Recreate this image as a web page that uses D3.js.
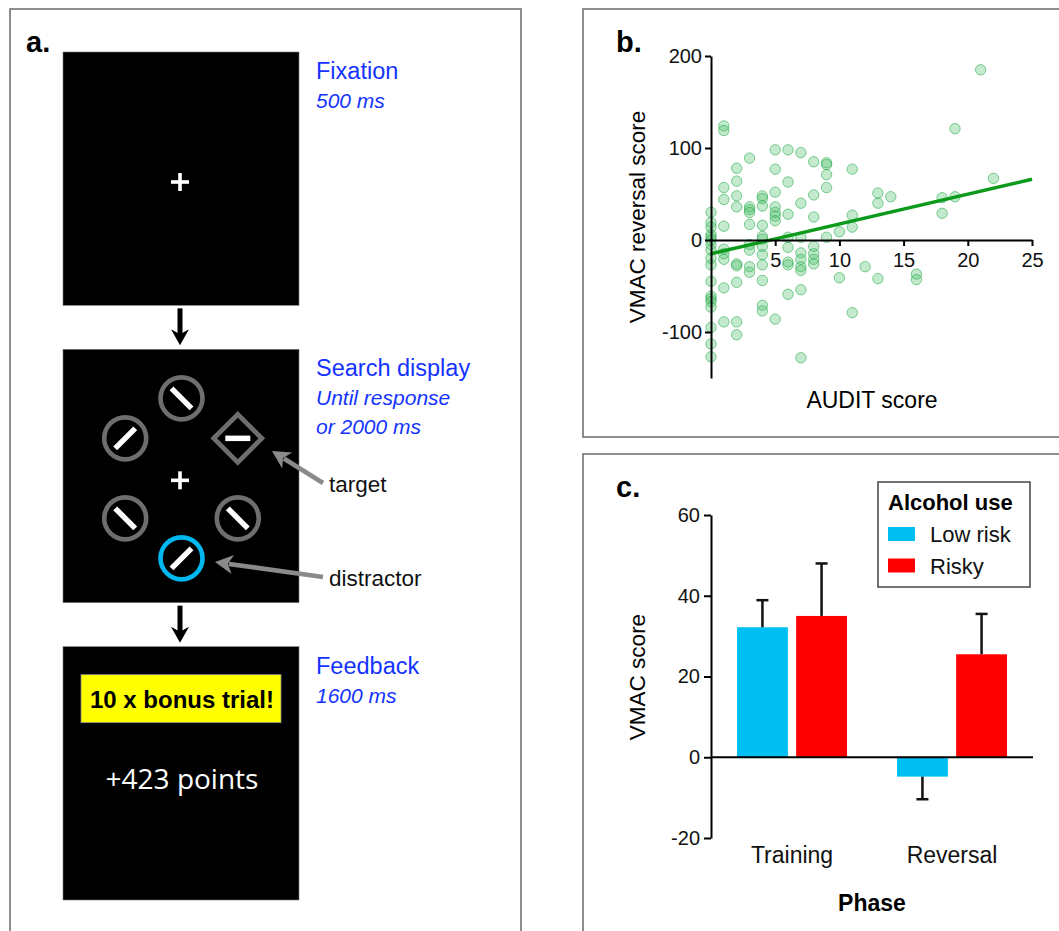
<!DOCTYPE html>
<head>
<meta charset="utf-8">
<script src="https://d3js.org/d3.v7.min.js"></script>
<style>
body { margin: 0; background: #fff; }
svg { display: block; font-family: "Liberation Sans", Arial, sans-serif; }
</style>
</head>
<body>
<script>

// ---- panel b: AUDIT vs VMAC reversal (one entry per participant)
var auditScore = [
  0,0,0,0,0,0,0,0,0,0,0,0,0,0,0,0,0,0,
  1,1,1,1,1,1,1,1,1,1,
  2,2,2,2,2,2,2,2,2,
  3,3,3,3,3,3,3,3,3,
  4,4,4,4,4,4,4,4,4,4,4,4,
  5,5,5,5,5,5,5,5,
  6,6,6,6,6,6,6,6,
  7,7,7,7,7,7,7,7,7,
  8,8,8,8,8,8,8,
  9,9,9,9,9,
  10,10, 11,11,11,11, 12, 13,13,13, 14, 16,16, 18,18, 19,19, 21, 22]
var vmacReversal = [
  30,19,14,6,3,0,-5,-11,-20,-27,-45,-61,-64,-67,-73,-95,-113,-127,
  124,119,57,44,15,-10,-15,-21,-52,-89,
  78,64,48,36,-26,-28,-46,-89,-103,
  89,36,33,30,17,-5,-11,-29,-35,
  48,45,37,16,4,1,-7,-16,-27,-44,-71,-77,
  98,77,52,36,30,26,21,-86,
  98,63,28,3,-8,-24,-27,-59,
  95,40,3,-14,-21,-29,-33,-54,-128,
  85,49,25,-7,-15,-21,-26,
  84,82,71,57,3,
  9,-41, 77,27,14,-79, -29, 51,40,-42, 47, -37,-43, 46,29, 121,47, 185, 67]
var fitIntercept = -15, fitSlope = 3.24
var bXTicks = [5, 10, 15, 20, 25]
var bYTicks = [-100, 0, 100, 200]

// ---- panel c: VMAC score by phase and alcohol use
var phases = ["Training", "Reversal"]
var groups = ["Low risk", "Risky"]
var lowRiskMean = [32.2, -4.8], lowRiskErr = [6.7, 5.6]
var riskyMean = [35.0, 25.5], riskyErr = [13.0, 10.0]
var cYTicks = [-20, 0, 20, 40, 60]
var groupColours = ["#00bff3", "#ff0000"]

// ---- panel a: trial sequence
var stages = [
  {title: "Fixation", lines: ["500 ms"]},
  {title: "Search display", lines: ["Until response", "or 2000 ms"]},
  {title: "Feedback", lines: ["1600 ms"]}]
// stimuli clockwise from the top of the search display
var stimAngle = [0, 60, 120, 180, 240, 300]
var stimShape = ["circle", "diamond", "circle", "circle", "circle", "circle"]
var stimBar   = ["\\", "-", "\\", "/", "\\", "/"]
var stimColour = ["#6e6e6e", "#6e6e6e", "#6e6e6e", "#00b8f0", "#6e6e6e", "#6e6e6e"]

var blue = "#1433ff"
var plain = d => String(d)   // hyphen minus, like the original figure
var svg = d3.select("body").append("svg").attr("width", 1059).attr("height", 931)

// panel frames
var frames = [[10, 9, 511, 940], [583, 9, 500, 428], [583, 454, 500, 500]]
svg.selectAll("rect.frame").data(frames).enter().append("rect")
  .attr("class", "frame")
  .attr("x", d => d[0]).attr("y", d => d[1])
  .attr("width", d => d[2]).attr("height", d => d[3])
  .style("fill", "none").style("stroke", "#6a6a6a").style("stroke-width", 1.5)

// ================= panel a =================
var a = svg.append("g")
a.append("text").attr("x", 26).attr("y", 52).text("a.")
  .style("font-size", "29px").style("font-weight", "bold")

var screenY = d3.scaleBand().domain(d3.range(3)).range([52, 900]).paddingInner(0.148)
var screenX = 63, screenW = 236, cx = screenX + screenW / 2

a.selectAll("rect.screen").data(stages).enter().append("rect")
  .attr("class", "screen")
  .attr("x", screenX).attr("y", (d, i) => screenY(i))
  .attr("width", screenW).attr("height", screenY.bandwidth())
  .style("fill", "#000").style("stroke", "#777").style("stroke-width", 0.6)

stages.forEach(function(s, i) {
  a.append("text").attr("x", 316).attr("y", screenY(i) + 27).style("fill", blue)
    .style("font-size", "23.5px").text(s.title)
  s.lines.forEach(function(l, j) {
    a.append("text").attr("x", 316).attr("y", screenY(i) + 56 + j * 29)
      .style("fill", blue).style("font-size", "21px").style("font-style", "italic").text(l)
  })
})

// down arrows between screens
function downArrow(xc, y0, y1) {
  a.append("line").attr("x1", xc).attr("x2", xc).attr("y1", y0).attr("y2", y1 - 8)
    .style("stroke", "#000").style("stroke-width", 5)
  a.append("path")
    .attr("d", `M${xc - 9},${y1 - 16} L${xc},${y1 - 11} L${xc + 9},${y1 - 16} L${xc},${y1} Z`)
    .style("fill", "#000")
}
downArrow(cx - 1, screenY(0) + screenY.bandwidth() + 3, screenY(1) - 4)
downArrow(cx - 1, screenY(1) + screenY.bandwidth() + 3, screenY(2) - 4)

// fixation crosses
function cross(x, y) {
  a.append("rect").attr("x", x - 9).attr("y", y - 1.8).attr("width", 18).attr("height", 3.6).style("fill", "#fff")
  a.append("rect").attr("x", x - 1.8).attr("y", y - 9).attr("width", 3.6).attr("height", 18).style("fill", "#fff")
}
cross(cx - 1, screenY(0) + 130)
cross(cx - 1, screenY(1) + 131)

// search display stimuli
var sc = {x: cx + 0.5, y: screenY(1) + 129}
var stim = a.selectAll("g.stim").data(stimAngle).enter().append("g")
  .attr("class", "stim")
  .attr("transform", d => `translate(${sc.x + 65 * Math.sin(d * Math.PI / 180)},${sc.y - 80 * Math.cos(d * Math.PI / 180)})`)

stim.each(function(d, i) {
  var g = d3.select(this)
  if (stimShape[i] == "circle") {
    g.append("circle").attr("r", 21)
      .style("fill", "none").style("stroke", stimColour[i]).style("stroke-width", 4.6)
  } else {
    g.append("path").attr("d", "M0,-24 L24,0 L0,24 L-24,0 Z")
      .style("fill", "none").style("stroke", stimColour[i]).style("stroke-width", 4.8)
  }
  var L = 10
  var seg = stimBar[i] == "\\" ? [-L, -L, L, L] : stimBar[i] == "/" ? [-L, L, L, -L] : [-12.5, 0, 12.5, 0]
  g.append("line").attr("x1", seg[0]).attr("y1", seg[1]).attr("x2", seg[2]).attr("y2", seg[3])
    .style("stroke", "#fff").style("stroke-width", 5.5)
})

// pointer labels
var pointers = [
  {label: "target", from: [323, 483], to: [272, 451], ty: 492},
  {label: "distractor", from: [323, 577], to: [215, 562], ty: 586}]
pointers.forEach(function(p) {
  var ang = Math.atan2(p.to[1] - p.from[1], p.to[0] - p.from[0])
  var hl = 18, hw = 9.5
  var bx = p.to[0] - hl * Math.cos(ang), by = p.to[1] - hl * Math.sin(ang)
  a.append("line").attr("x1", p.from[0]).attr("y1", p.from[1]).attr("x2", bx + 4 * Math.cos(ang)).attr("y2", by + 4 * Math.sin(ang))
    .style("stroke", "#8a8a8a").style("stroke-width", 4.6)
  a.append("path")
    .attr("d", `M${p.to[0]},${p.to[1]} L${bx - hw * Math.sin(ang)},${by + hw * Math.cos(ang)} L${bx + 5 * Math.cos(ang)},${by + 5 * Math.sin(ang)} L${bx + hw * Math.sin(ang)},${by - hw * Math.cos(ang)} Z`)
    .style("fill", "#8a8a8a")
  a.append("text").attr("x", 329).attr("y", p.ty).text(p.label)
    .style("font-size", "22.5px").style("fill", "#111")
})

// feedback screen
var fy = screenY(2)
a.append("rect").attr("x", 81).attr("y", fy + 28).attr("width", 200).attr("height", 48)
  .style("fill", "#ffff00").style("stroke", "#888").style("stroke-width", 0.8)
a.append("text").attr("x", cx + 1).attr("y", fy + 61).attr("text-anchor", "middle")
  .text("10 x bonus trial!").style("font-size", "24px").style("font-weight", "bold")
a.append("text").attr("x", cx + 1).attr("y", fy + 142).attr("text-anchor", "middle")
  .text("+423 points").style("font-family", "'Open Sans', sans-serif").style("font-size", "28px").style("fill", "#fff")

// ================= panel b =================
var b = svg.append("g")
var xB = d3.scaleLinear().domain([0, 25]).range([711, 1032])
var yB = d3.scaleLinear().domain([-150, 200]).range([378, 56])

b.append("text").attr("x", 616).attr("y", 52).text("b.")
  .style("font-size", "29px").style("font-weight", "bold")

b.selectAll("circle.pt").data(auditScore).enter().append("circle")
  .attr("class", "pt")
  .attr("cx", d => xB(d))
  .attr("cy", (d, i) => yB(vmacReversal[i]))
  .attr("r", 5.2)
  .style("fill", "rgba(70,190,100,0.32)")
  .style("stroke", "rgba(30,165,70,0.55)")
  .style("stroke-width", 1)

b.append("line")
  .attr("x1", xB(0)).attr("y1", yB(fitIntercept))
  .attr("x2", xB(25)).attr("y2", yB(fitIntercept + fitSlope * 25))
  .style("stroke", "#0c9a1c").style("stroke-width", 3.5)

var bx = b.append("g").attr("transform", `translate(0,${yB(0)})`)
  .call(d3.axisBottom(xB).tickValues(bXTicks).tickFormat(plain).tickSize(6).tickSizeOuter(0).tickPadding(7))
var by = b.append("g").attr("transform", `translate(${xB(0)},0)`)
  .call(d3.axisLeft(yB).tickValues(bYTicks).tickFormat(plain).tickSize(6).tickSizeOuter(0).tickPadding(3))
;[bx, by].forEach(function(g) {
  g.selectAll("path, line").style("stroke", "#000").style("stroke-width", 2)
  g.selectAll("text").style("font-size", "20px").style("fill", "#111").style("font-family", "'Liberation Sans', Arial, sans-serif")
})

b.append("text").attr("x", 872).attr("y", 408).attr("text-anchor", "middle")
  .text("AUDIT score").style("font-size", "23px")
b.append("text").attr("transform", "translate(645,217) rotate(-90)").attr("text-anchor", "middle")
  .text("VMAC reversal score").style("font-size", "22.5px")

// ================= panel c =================
var c = svg.append("g")
var yC = d3.scaleLinear().domain([-20, 60]).range([838, 515])
var x0 = d3.scaleBand().domain(phases).range([712, 1032])
var x1 = d3.scaleBand().domain(groups).range([25, 135]).paddingInner(0.14)

c.append("text").attr("x", 616).attr("y", 497).text("c.")
  .style("font-size", "29px").style("font-weight", "bold")

var barData = []
phases.forEach(function(p, i) {
  barData.push({phase: p, group: groups[0], mean: lowRiskMean[i], err: lowRiskErr[i]})
  barData.push({phase: p, group: groups[1], mean: riskyMean[i], err: riskyErr[i]})
})

var bars = c.selectAll("g.bar").data(barData).enter().append("g").attr("class", "bar")
bars.append("rect")
  .attr("x", d => x0(d.phase) + x1(d.group))
  .attr("width", x1.bandwidth())
  .attr("y", d => yC(Math.max(0, d.mean)))
  .attr("height", d => Math.abs(yC(d.mean) - yC(0)))
  .style("fill", d => groupColours[groups.indexOf(d.group)])
var mid = d => x0(d.phase) + x1(d.group) + x1.bandwidth() / 2
var tip = d => d.mean >= 0 ? d.mean + d.err : d.mean - d.err
bars.append("line")
  .attr("x1", mid).attr("x2", mid)
  .attr("y1", d => yC(d.mean)).attr("y2", d => yC(tip(d)))
  .style("stroke", "#111").style("stroke-width", 2.5)
bars.append("line")
  .attr("x1", d => mid(d) - 6).attr("x2", d => mid(d) + 6)
  .attr("y1", d => yC(tip(d))).attr("y2", d => yC(tip(d)))
  .style("stroke", "#111").style("stroke-width", 2.5)

c.append("line").attr("x1", 711).attr("x2", 1033).attr("y1", yC(0)).attr("y2", yC(0))
  .style("stroke", "#000").style("stroke-width", 2)
var cy = c.append("g").attr("transform", "translate(711,0)")
  .call(d3.axisLeft(yC).tickValues(cYTicks).tickFormat(plain).tickSize(7).tickSizeOuter(0).tickPadding(4))
cy.selectAll("path, line").style("stroke", "#000").style("stroke-width", 2)
cy.selectAll("text").style("font-size", "20px").style("fill", "#111").style("font-family", "'Liberation Sans', Arial, sans-serif")

var cx0 = c.append("g").attr("transform", `translate(0,${yC(-20)})`)
  .call(d3.axisBottom(x0).tickSize(0).tickPadding(9))
cx0.select(".domain").remove()
cx0.selectAll("text").style("font-size", "23px").style("fill", "#111").style("font-family", "'Liberation Sans', Arial, sans-serif")

c.append("text").attr("x", 872).attr("y", 911).attr("text-anchor", "middle")
  .text("Phase").style("font-size", "23px").style("font-weight", "bold")
c.append("text").attr("transform", "translate(645,677) rotate(-90)").attr("text-anchor", "middle")
  .text("VMAC score").style("font-size", "22.5px")

// legend
var lg = c.append("g").attr("transform", "translate(878,482)")
lg.append("rect").attr("width", 152).attr("height", 105)
  .style("fill", "#fff").style("stroke", "#444").style("stroke-width", 1.5)
lg.append("text").attr("x", 10).attr("y", 28).text("Alcohol use")
  .style("font-size", "22px").style("font-weight", "bold")
groups.forEach(function(g, i) {
  lg.append("rect").attr("x", 10).attr("y", 45 + i * 31.5).attr("width", 27).attr("height", 14)
    .style("fill", groupColours[i])
  lg.append("text").attr("x", 52).attr("y", 60 + i * 31.5).text(g).style("font-size", "22px").style("fill", "#111")
})

</script>
</body>
</html>
